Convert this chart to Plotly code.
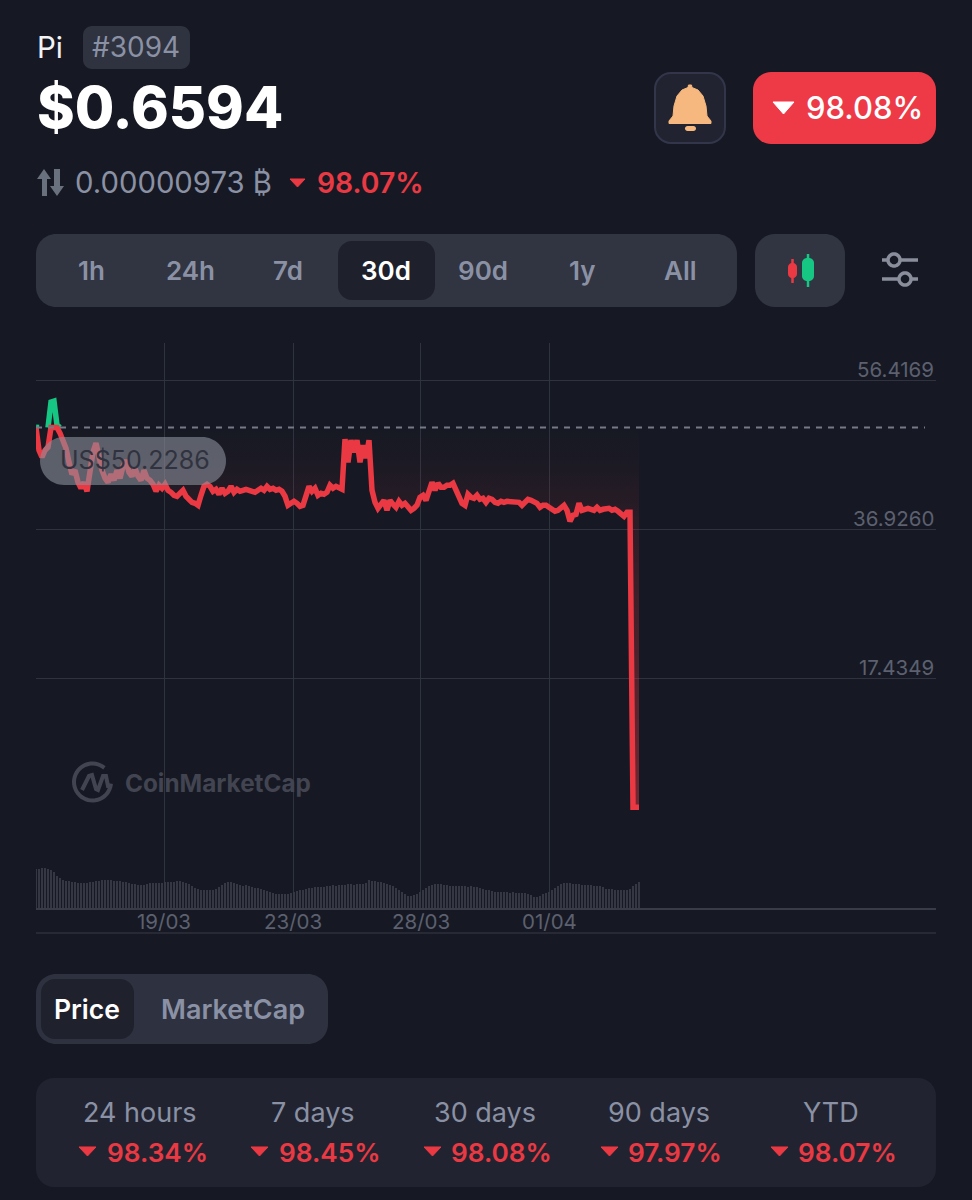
import math
import plotly.graph_objects as go

W, H = 972, 1200

# ---------- data ----------
price = [
 50.27,47.26,46.35,47.26,47.66,53.54,53.67,50.53,49.50,48.57,
 47.52,45.69,44.12,44.65,43.08,42.29,43.08,41.90,44.12,47.00,
 48.18,46.22,44.65,43.60,43.08,44.12,43.34,44.65,43.60,45.17,
 45.95,44.39,43.86,44.91,43.86,43.34,44.65,43.60,43.34,42.82,
 41.90,42.69,42.29,42.82,42.03,41.77,41.38,41.25,41.77,42.03,
 41.25,40.72,40.46,40.33,40.07,41.38,42.55,42.82,42.55,41.90,
 42.16,41.51,42.29,41.64,41.90,42.55,41.77,42.16,41.90,42.03,
 42.16,42.03,41.90,41.77,42.03,42.29,42.03,42.55,42.16,42.29,
 42.03,42.16,41.90,41.25,40.07,40.33,40.59,40.33,39.94,40.07,
 41.25,42.55,41.90,42.29,41.38,41.64,41.51,41.77,42.69,42.29,
 42.55,42.42,42.16,48.70,45.69,48.57,47.00,48.57,45.69,47.92,
 46.22,48.57,42.03,40.46,39.68,40.20,40.72,39.42,40.72,40.20,
 39.81,40.59,40.07,40.33,39.81,39.42,39.68,40.07,41.12,41.38,
 40.72,42.03,43.08,42.03,42.95,42.42,42.42,42.69,42.69,42.95,
 42.03,41.38,40.33,40.07,41.51,41.12,40.99,41.38,40.85,40.99,
 40.46,40.99,40.85,40.46,40.33,40.59,40.46,40.59,40.59,40.46,
 40.46,40.46,40.07,40.59,40.85,40.72,40.46,40.33,39.81,40.07,
 40.07,39.81,39.55,39.29,39.42,39.81,40.07,39.42,37.98,38.76,
 38.89,40.33,39.42,39.55,39.68,39.55,39.42,39.81,39.42,39.55,
 39.55,39.68,39.42,39.55,39.29,38.89,38.63,39.15,39.15,0.6594,
 0.6594,0.6594,
]
volume = [
 39,39,40,40,39,38,36,32,30,28,27,27,26,26,25,25,25,25,26,26,
 27,27,28,28,28,28,27,27,27,26,26,25,24,24,23,23,23,24,25,25,
 25,25,25,26,26,26,26,27,27,26,25,24,22,20,19,18,18,18,18,18,
 19,21,23,25,26,26,25,24,23,22,23,22,21,20,20,19,18,17,16,15,
 14,14,14,14,14,15,16,17,18,18,19,20,20,21,21,21,21,22,22,23,
 22,23,23,23,24,24,23,24,24,24,25,28,27,27,26,26,25,24,23,22,
 20,18,16,14,12,12,13,14,16,18,20,22,23,24,24,24,23,23,22,22,
 22,22,22,22,21,22,21,21,20,19,18,18,17,16,16,16,16,16,15,16,
 15,15,15,15,14,13,11,11,12,14,15,16,18,20,22,24,25,25,25,24,
 24,24,23,23,23,23,22,22,22,21,19,19,19,18,18,18,18,18,19,22,
 24,26,
]
baseline_price = 50.2286
price_ticks = [56.4169, 36.9260, 17.4349]
price_top, price_bottom = 61.26, -2.06
date_labels = ["19/03", "23/03", "28/03", "01/04"]
date_positions = [42.67, 85.67, 128.33, 171.33]
range_tabs = ["1h", "24h", "7d", "30d", "90d", "1y", "All"]
range_tab_centers = [91, 190, 288, 386, 483, 582, 680]
stat_labels = ["24 hours", "7 days", "30 days", "90 days", "YTD"]
stat_values = ["98.34%", "98.45%", "98.08%", "97.97%", "98.07%"]

# ---------- colours ----------
BG = "#161923"
PANEL = "#313441"
DARK = "#1e202b"
CARD = "#212430"
GRAY = "#8b91a4"
RED = "#ea3943"
BTN = "#ee3a47"
GREEN = "#16c784"
GRID = "#2f323f"
AXIS_TEXT = "#5c606f"
FONT = "Inter"

# ---------- pixel helpers (page furniture only) ----------
def px(x): return x / W
def py(y): return 1 - y / H
def P(x, y): return f"{px(x):.5f},{py(y):.5f}"

shapes, notes = [], []

def path_shape(d, fill=None, line=None, lw=0, layer="below"):
    s = dict(type="path", xref="paper", yref="paper", path=d, layer=layer,
             fillcolor=fill or "rgba(0,0,0,0)",
             line=dict(color=line or "rgba(0,0,0,0)", width=lw))
    shapes.append(s)

def rr(x0, y0, x1, y1, r, fill, line=None, lw=0, layer="below"):
    k = r * 0.45
    d = (f"M{P(x0+r,y0)} L{P(x1-r,y0)} C{P(x1-k,y0)} {P(x1,y0+k)} {P(x1,y0+r)} "
         f"L{P(x1,y1-r)} C{P(x1,y1-k)} {P(x1-k,y1)} {P(x1-r,y1)} "
         f"L{P(x0+r,y1)} C{P(x0+k,y1)} {P(x0,y1-k)} {P(x0,y1-r)} "
         f"L{P(x0,y0+r)} C{P(x0,y0+k)} {P(x0+k,y0)} {P(x0+r,y0)} Z")
    path_shape(d, fill, line, lw, layer)

def poly(pts, fill=None, line=None, lw=0, close=True, layer="below"):
    d = "M" + " L".join(P(x, y) for x, y in pts) + (" Z" if close else "")
    path_shape(d, fill, line, lw, layer)

def arc_pts(cx, cy, r, a0, a1, n=40):
    return [(cx + r * math.cos(math.radians(a0 + (a1 - a0) * i / n)),
             cy + r * math.sin(math.radians(a0 + (a1 - a0) * i / n))) for i in range(n + 1)]

def tri(x0, x1, y0, y1, color):
    poly([(x0, y0), (x1, y0), ((x0 + x1) / 2, y1)], fill=color, line=color, lw=1)

def text(t, x, y, size, color, anchor="left", weight=400, font=FONT):
    notes.append(dict(xref="paper", yref="paper", x=px(x), y=py(y), text=t, showarrow=False,
                      xanchor=anchor, yanchor="middle", borderpad=0, borderwidth=0,
                      font=dict(family=font, size=size, color=color, weight=weight)))

# ---------- header ----------
text("Pi", 37, 47, 29.5, "#f2f3f5")
rr(83, 26, 190, 69, 9, "#2f323f")
text("#3094", 136, 47, 28, GRAY, "center")
text("$0.6594", 37, 108, 57.2, "#ffffff", weight=800)

rr(655, 73, 725, 143, 16, CARD, "#33364a", 2)
poly([(669, 121), (673, 116), (674, 106), (677, 96), (682, 90), (688, 87.5), (688.5, 85),
      (691.5, 85), (692, 87.5), (698, 90), (703, 96), (706, 106), (707, 116), (711, 121),
      (711, 123.5), (669, 123.5)], fill="#f6b87e", line="#f6b87e", lw=1)
rr(685, 126, 696, 131, 2.5, "#f6b87e")

rr(753, 72, 936, 144, 18, BTN)
tri(773, 794, 102, 114, "#ffffff")
text("98.08%", 806, 108, 31, "#ffffff", weight=500)

# ---------- BTC line ----------
ac = "#69717f"
poly([(44, 169), (37, 179), (42, 179), (42, 196), (47, 196), (47, 179), (51, 179)], fill=ac)
poly([(57, 196), (50, 186), (54, 186), (54, 169), (60, 169), (60, 186), (64, 186)], fill=ac)
text("0.00000973 ₿", 75, 183, 29.3, GRAY)
tri(290, 305, 179, 187, RED)
text("98.07%", 317, 183, 28.3, RED, weight=600)

# ---------- range tabs ----------
rr(36, 234, 737, 307, 20, PANEL)
rr(338, 241, 435, 300, 14, DARK)
for lab, cx in zip(range_tabs, range_tab_centers):
    text(lab, cx, 270, 26, "#ffffff" if lab == "30d" else GRAY, "center", 600)

rr(755, 234, 845, 307, 20, PANEL)
poly([(792.5, 259), (792.5, 283)], line=RED, lw=2.5, close=False)
rr(788, 263, 797, 278, 4, RED)
poly([(808, 254), (808, 287)], line=GREEN, lw=2.5, close=False)
rr(802, 258, 814, 281, 5, GREEN)

sl = "#8a8d9c"
poly([(882, 260), (888, 260)], line=sl, lw=3.5, close=False)
poly([(900, 260), (918, 260)], line=sl, lw=3.5, close=False)
poly(arc_pts(894, 260, 6, 0, 360), line=sl, lw=3.5)
poly([(882, 279), (899, 279)], line=sl, lw=3.5, close=False)
poly([(911, 279), (918, 279)], line=sl, lw=3.5, close=False)
poly(arc_pts(905, 279, 6, 0, 360), line=sl, lw=3.5)

# ---------- watermark ----------
logo = "#424551"
poly(arc_pts(92.5, 782, 18.5, 5, 310), line=logo, lw=4, close=False)
poly([(82, 790), (89, 776), (92, 775), (96, 789), (98, 790), (103, 776), (106, 776),
      (108, 786), (112, 786)], line=logo, lw=4, close=False)
text("CoinMarketCap", 125, 783, 24.3, logo, weight=700)

# ---------- chart furniture ----------
poly([(36, 933), (936, 933)], line="#2e313d", lw=1.5, close=False)
shapes.append(dict(type="line", xref="paper", yref="y", x0=px(36), x1=px(925),
                   y0=baseline_price, y1=baseline_price, layer="above",
                   line=dict(color="#767a87", width=2, dash="6px,6px")))
rr(40, 437, 226, 485, 24, "rgba(139,143,155,0.60)", layer="above")
text("US$50.2286", 60, 460, 25, "#30333f")

for v in price_ticks:
    notes.append(dict(xref="paper", yref="y", x=px(935), y=v, text=f"{v:.4f}", showarrow=False,
                      xanchor="right", yanchor="middle", yshift=11, borderpad=0,
                      font=dict(family=FONT, size=20.5, color=AXIS_TEXT)))
for lab, pos in zip(date_labels, date_positions):
    notes.append(dict(xref="x2", yref="paper", x=pos, y=py(921), text=lab, showarrow=False,
                      xanchor="center", yanchor="middle", borderpad=0,
                      font=dict(family=FONT, size=20.5, color=AXIS_TEXT)))

# ---------- bottom ----------
rr(36, 974, 328, 1044, 20, "#2e3140")
rr(41, 979, 134, 1039, 14, "#1f212d")
text("Price", 87, 1009, 26.5, "#ffffff", "center", 600)
text("MarketCap", 233, 1009, 27, GRAY, "center", 600)

rr(36, 1078, 936, 1187, 18, CARD)
stat_centers = [140, 313, 485, 659, 831]
value_lefts = [107, 279, 451, 628, 798]
tri_lefts = [79, 251, 424, 601, 771]
for lab, val, c, vl, tl in zip(stat_labels, stat_values, stat_centers, value_lefts, tri_lefts):
    text(lab, c, 1112, 27, GRAY, "center")
    text(val, vl, 1152, 26.2, RED, weight=600)
    tri(tl, tl + 17, 1147, 1156, RED)

# ---------- traces ----------
xs = list(range(len(price)))
base_line = [baseline_price] * len(price)
below = [min(p, baseline_price) for p in price]
above = [p if (p >= baseline_price or
               (i > 0 and price[i - 1] >= baseline_price) or
               (i + 1 < len(price) and price[i + 1] >= baseline_price)) else None
         for i, p in enumerate(price)]
above = [None if v is None else max(v, baseline_price) for v in above]

fig = go.Figure()
fig.add_trace(go.Bar(x=list(range(len(volume))), y=volume, xaxis="x2", yaxis="y2",
                     width=0.97, marker=dict(color="#353742", line=dict(width=0)),
                     hoverinfo="skip"))
fig.add_trace(go.Scatter(x=xs, y=base_line, mode="lines", line=dict(width=0), hoverinfo="skip"))
fig.add_trace(go.Scatter(
    x=xs, y=below, mode="lines", line=dict(width=0), fill="tonexty", hoverinfo="skip",
    fillgradient=dict(type="vertical", start=baseline_price, stop=0.66,
                      colorscale=[[0, "rgba(234,57,67,0)"], [0.1, "rgba(234,57,67,0.03)"],
                                  [0.22, "rgba(234,57,67,0.09)"], [1, "rgba(234,57,67,0.45)"]])))
fig.add_trace(go.Scatter(x=xs, y=above, mode="lines", hoverinfo="skip",
                         line=dict(color=GREEN, width=5.5, shape="linear")))
fig.add_trace(go.Scatter(x=xs, y=below, mode="lines", hoverinfo="skip",
                         line=dict(color=RED, width=5.5, shape="linear")))

xdom = [px(36), px(936)]
fig.update_layout(
    width=W, height=H, margin=dict(l=0, r=0, t=0, b=0), autosize=False,
    paper_bgcolor=BG, plot_bgcolor=BG, showlegend=False, bargap=0,
    font=dict(family=FONT),
    shapes=shapes, annotations=notes,
    xaxis=dict(domain=xdom, range=[0, 300], anchor="y", tickvals=date_positions,
               showticklabels=False, ticks="", showgrid=True, gridcolor=GRID, gridwidth=1.4,
               zeroline=False, fixedrange=True),
    yaxis=dict(domain=[py(828), py(343)], range=[price_bottom, price_top], anchor="x",
               side="right", tickvals=[price_top] + price_ticks + [price_bottom],
               showticklabels=False,
               showgrid=True, gridcolor=GRID, gridwidth=1.4, zeroline=False, ticks="",
               fixedrange=True),
    xaxis2=dict(domain=xdom, range=[0, 300], anchor="y2", tickvals=date_positions,
                showticklabels=False,
                showgrid=True, gridcolor=GRID, gridwidth=1.4, zeroline=False, ticks="",
                showline=True, linecolor="#383b48", linewidth=2, fixedrange=True),
    yaxis2=dict(domain=[py(908), py(828)], range=[0, 80], anchor="x2", showgrid=False,
                showticklabels=False, zeroline=False, ticks="", fixedrange=True),
)

fig.write_html("out.html", config=dict(displayModeBar=False, responsive=False),
               post_script=f"document.body.style.margin='0';document.body.style.background='{BG}';")
